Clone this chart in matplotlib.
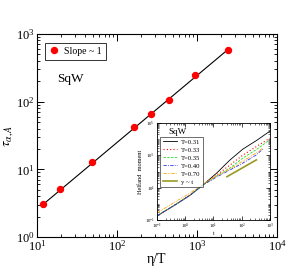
import matplotlib
matplotlib.use("Agg")
import matplotlib.pyplot as plt
from matplotlib.ticker import LogLocator, NullFormatter, FixedLocator

plt.rcParams['font.family'] = ['Liberation Serif', 'DejaVu Serif']
plt.rcParams['mathtext.fontset'] = 'stix'

# Main data
eta_T = [11.8, 19.4, 48.3, 164, 264, 450, 944, 2441]
tau = [3.1, 5.07, 12.8, 42.6, 64.9, 105.6, 244, 584]
fit_x = [11.8, 2441]
fit_y = [3.0, 590]

# Inset data (Helfand moment vs t)
t_long = [0.1, 0.43, 1.5, 4.2, 13, 38, 110, 350, 1000]
t_green = [0.1, 0.43, 1.5, 4.2, 13, 38, 110, 350, 850]
t_short = [0.1, 0.43, 1.5, 4.2, 13, 38, 110, 320, 560]
M_031 = [0.18, 0.85, 3.5, 14.6, 81, 514, 2460, 8850, 31900]
M_033 = [0.18, 0.85, 3.5, 14.6, 61, 252, 1047, 3770, 11800]
M_035 = [0.18, 0.85, 3.5, 14.6, 53, 164, 683, 2460, 7700]
M_040 = [0.18, 0.85, 3.5, 14.6, 46, 124, 335, 1047, 2460]
M_070 = [0.27, 1.3, 4.7, 16.8, 53, 143, 446, 1390, 2840]
ref_t = [30, 330]
ref_M = [48, 528]

fig = plt.figure(figsize=(2.86, 2.67), dpi=100)
ax = fig.add_axes([0.129, 0.112, 0.840, 0.761])
ax.set_xscale('log')
ax.set_yscale('log')
ax.set_xlim(10, 1e4)
ax.set_ylim(1, 1e3)
ax.plot(fit_x, fit_y, color='black', lw=0.8, zorder=2)
ax.plot(eta_T, tau, 'o', color='red', ms=4.3, mec='red', label='Slope ~ 1', zorder=3)
ax.tick_params(which='both', direction='in', top=True, right=True, labelsize=9)
ax.tick_params(axis='x', pad=1.5)
ax.tick_params(axis='y', pad=1.5)
ax.tick_params(which='major', length=5, width=0.7)
ax.tick_params(which='minor', length=2.5, width=0.6)
ax.xaxis.set_minor_locator(LogLocator(base=10, subs=range(2, 10), numticks=20))
ax.yaxis.set_minor_locator(LogLocator(base=10, subs=range(2, 10), numticks=20))
ax.xaxis.set_minor_formatter(NullFormatter())
ax.yaxis.set_minor_formatter(NullFormatter())
for s in ax.spines.values():
    s.set_linewidth(0.8)
ax.set_xlabel('η/T', fontsize=10, labelpad=-0.5)
ax.set_ylabel(r'$\tau_{\alpha,A}$', fontsize=10, labelpad=0)
leg = ax.legend(loc='upper left', bbox_to_anchor=(0.02, 0.97), fontsize=7, frameon=True,
                fancybox=False, edgecolor='black', handletextpad=0.4, borderpad=0.4,
                handlelength=1.2, numpoints=1, borderaxespad=0.3)
leg.get_frame().set_linewidth(0.7)
ax.text(0.085, 0.78, 'SqW', transform=ax.transAxes, fontsize=9.5, va='center', ha='left')

# Inset
ins = fig.add_axes([0.549, 0.176, 0.395, 0.363])
ins.set_xscale('log')
ins.set_yscale('log')
ins.set_xlim(0.1, 1000)
ins.set_ylim(0.1, 1e5)
ins.plot(t_long, M_031, color='black', lw=0.6, ls='-', label='T=0.31')
ins.plot(t_long, M_033, color='red', lw=0.8, ls=(0, (1, 2)), label='T=0.33')
ins.plot(t_green, M_035, color='#22dd22', lw=0.6, ls=(0, (3, 1.5)), label='T=0.35')
ins.plot(t_short, M_040, color='#3333ee', lw=0.6, ls=(0, (4, 1.5, 1, 1.5)), label='T=0.40')
ins.plot(t_short, M_070, color='orange', lw=0.6, ls=(0, (4, 1.2, 1, 1.2, 1, 1.2)), label='T=0.70')
ins.plot(ref_t, ref_M, color='#999922', lw=1.2, ls='-', label='y ~ t')
ins.yaxis.set_major_locator(FixedLocator([0.1, 10, 1000, 1e5]))
ins.xaxis.set_major_locator(FixedLocator([0.1, 1, 10, 100, 1000]))
ins.xaxis.set_minor_locator(LogLocator(base=10, subs=range(2, 10), numticks=20))
ins.yaxis.set_minor_locator(LogLocator(base=10, subs=range(1, 10), numticks=20))
ins.xaxis.set_minor_formatter(NullFormatter())
ins.yaxis.set_minor_formatter(NullFormatter())
ins.tick_params(which='both', direction='in', top=True, right=True, labelsize=3.5, pad=1.5)
ins.tick_params(which='major', length=3, width=0.5)
ins.tick_params(which='minor', length=1.5, width=0.4)
for s in ins.spines.values():
    s.set_linewidth(0.6)
ins.set_xlabel('t', fontsize=4, labelpad=0)
ins.set_ylabel('Helfand  moment', fontsize=4.5, labelpad=1)
ileg = ins.legend(loc='upper left', bbox_to_anchor=(0.03, 0.86), fontsize=4.8, frameon=True,
                  fancybox=False, edgecolor='black', handlelength=2.2, handletextpad=0.5,
                  borderpad=0.35, labelspacing=0.35, borderaxespad=0.0)
ileg.get_frame().set_linewidth(0.5)
ins.text(0.18, 0.905, 'SqW', transform=ins.transAxes, fontsize=6.5, ha='center', va='center')

fig.savefig('out.png', dpi=100)
